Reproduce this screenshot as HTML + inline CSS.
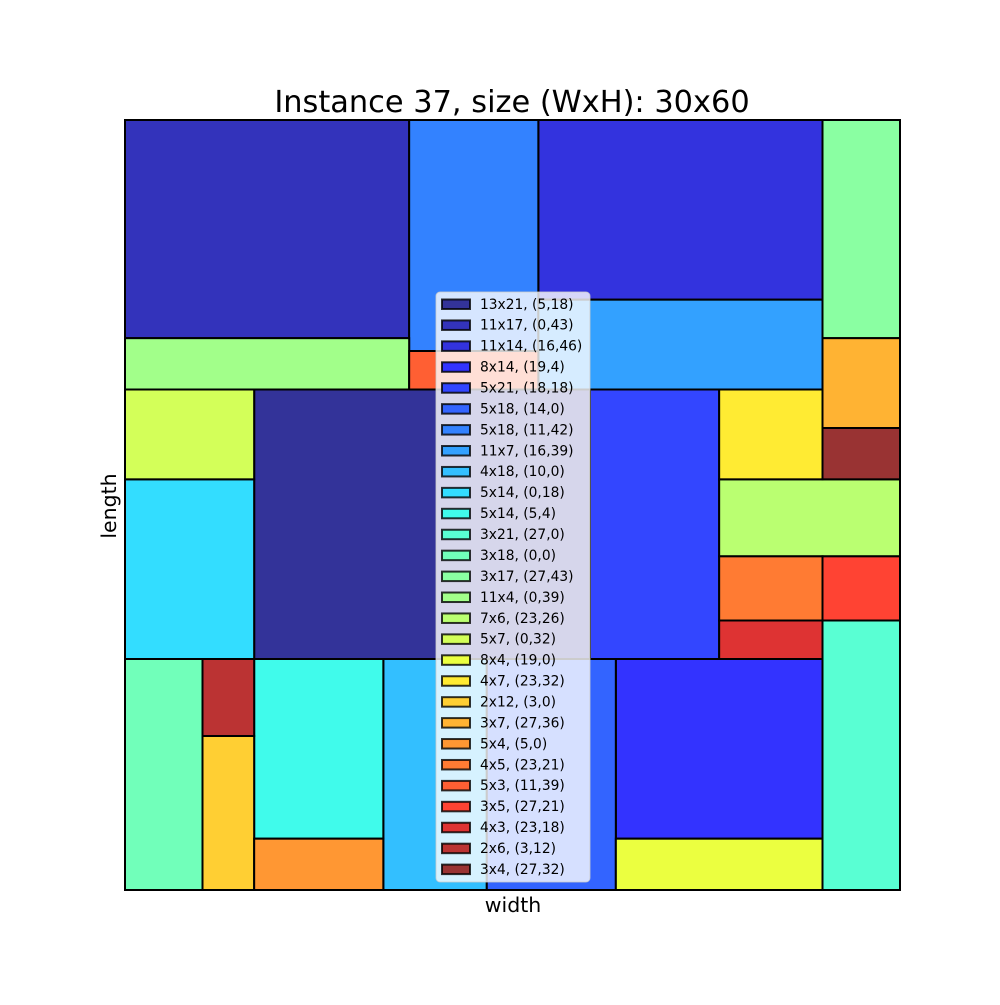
<!DOCTYPE html>
<html><head><meta charset="utf-8">
<style>
body{margin:0;background:#fff;}
svg text{font-family:"DejaVu Sans","Liberation Sans",sans-serif;}
</style></head>
<body>
<svg id="chart" width="1000" height="1000" xmlns="http://www.w3.org/2000/svg">
<rect width="1000" height="1000" fill="#fff"/>
<text x="512" y="112" font-size="30.4" text-anchor="middle">Instance 37, size (WxH): 30x60</text>
<text x="513" y="912" font-size="20.5" text-anchor="middle">width</text>
<text x="116" y="506" font-size="20.5" text-anchor="middle" transform="rotate(-90 116 506)">length</text>
<g id="rects"></g>
<rect x="125" y="120" width="775" height="770" fill="none" stroke="#000" stroke-width="1.5"/>
<g id="legend"></g>
</svg>
<script>
const widths  = [13,11,11,8,5,5,5,11,4,5,5,3,3,3,11,7,5,8,4,2,3,5,4,5,3,4,2,3];
const heights = [21,17,14,14,21,18,18,7,18,14,14,21,18,17,4,6,7,4,7,12,7,4,5,3,5,3,6,4];
const xs      = [5,0,16,19,18,14,11,16,10,0,5,27,0,27,0,23,0,19,23,3,27,5,23,11,27,23,3,27];
const ys      = [18,43,46,4,18,0,42,39,0,18,4,0,0,43,39,26,32,0,32,0,36,0,21,39,21,18,12,32];
const W=30,H=60, X0=125,X1=900,Y0=890,Y1=120;
const sx=v=>X0+v*(X1-X0)/W, sy=v=>Y0-v*(Y0-Y1)/H;
function interp(pts,t){for(let i=1;i<pts.length;i++){if(t<=pts[i][0]){const a=pts[i-1],b=pts[i];return a[1]+(b[1]-a[1])*(t-a[0])/(b[0]-a[0]);}}return pts[pts.length-1][1];}
function jet(t){
 const r=interp([[0,0],[0.35,0],[0.66,1],[0.89,1],[1,0.5]],t);
 const g=interp([[0,0],[0.125,0],[0.375,1],[0.64,1],[0.91,0],[1,0]],t);
 const b=interp([[0,0.5],[0.11,1],[0.34,1],[0.65,0],[1,0]],t);
 const m=c=>Math.round(255*(0.8*c+0.2));
 return `rgb(${m(r)},${m(g)},${m(b)})`;
}
const NS="http://www.w3.org/2000/svg";
const rg=document.getElementById('rects'), lg=document.getElementById('legend');
const n=widths.length;
for(let i=0;i<n;i++){
 const c=jet(i/(n-1));
 const r=document.createElementNS(NS,'rect');
 r.setAttribute('x',sx(xs[i]));r.setAttribute('y',sy(ys[i]+heights[i]));
 r.setAttribute('width',sx(xs[i]+widths[i])-sx(xs[i]));r.setAttribute('height',sy(ys[i])-sy(ys[i]+heights[i]));
 r.setAttribute('fill',c);r.setAttribute('stroke','#000');r.setAttribute('stroke-width','2');
 
 
 rg.appendChild(r);
}
const box=document.createElementNS(NS,'rect');
box.setAttribute('x',436);box.setAttribute('y',292);box.setAttribute('width',154);box.setAttribute('height',590);
box.setAttribute('rx',4);box.setAttribute('fill','rgba(255,255,255,0.8)');box.setAttribute('stroke','rgba(204,204,204,0.8)');


lg.appendChild(box);
for(let i=0;i<n;i++){
 const cy=304+i*20.93;
 const c=jet(i/(n-1));
 const s=document.createElementNS(NS,'rect');
 s.setAttribute('x',442);s.setAttribute('y',cy-4.5);s.setAttribute('width',28);s.setAttribute('height',9.5);
 s.setAttribute('fill',c);s.setAttribute('stroke','rgba(0,0,0,0.8)');s.setAttribute('stroke-width','2');
 
 
 lg.appendChild(s);
 const t=document.createElementNS(NS,'text');
 t.setAttribute('x',480);t.setAttribute('y',cy+4.8);t.setAttribute('font-size','13.8');
 t.textContent=`${widths[i]}x${heights[i]}, (${xs[i]},${ys[i]})`;
 
 
 lg.appendChild(t);
}
</script>
</body></html>
